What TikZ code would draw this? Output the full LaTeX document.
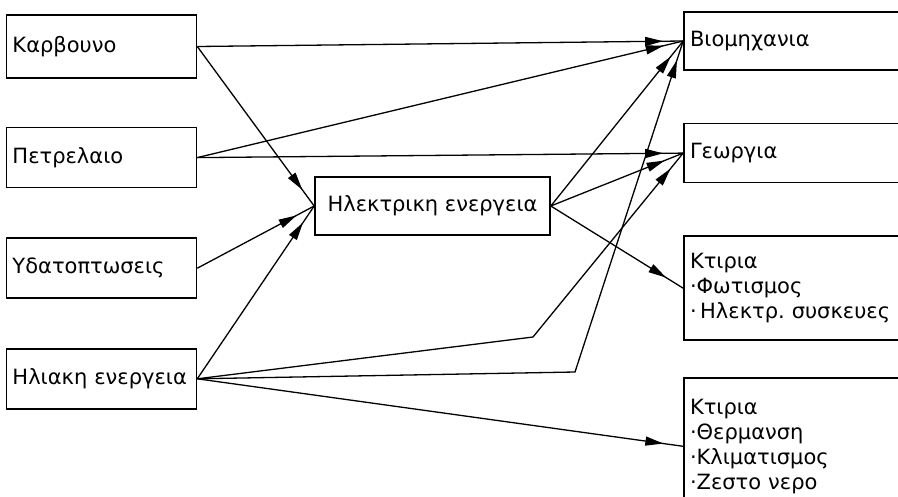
\documentclass[tikz,border=0pt]{standalone}
\usepackage{fontspec}
\setmainfont{DejaVu Sans}
\usetikzlibrary{arrows.meta, positioning, decorations.markings}

\begin{document}
\begin{tikzpicture}[x=1pt, y=-1pt,
    box/.style={draw, line width=1.6pt, inner xsep=6pt, align=left, font=\fontsize{21}{25}\selectfont},
    src/.style={box, minimum width=190pt, text width=178pt, minimum height=60pt},
    sink/.style={box, minimum width=240pt, text width=228pt},
    flow/.style={line width=1.3pt, postaction={decorate},
      decoration={markings, mark=at position -20pt with {\arrow{Triangle[length=18pt, width=9pt]}}}}]
      \useasboundingbox (0,0) rectangle (898,496);
      \clip (0,0) rectangle (898,496);

      % Nodes
      \node[src, minimum height=63pt] (carb) at (101.5,46.5) {Καρβουνο};
      \node[src, below=48pt of carb] (petr) {Πετρελαιο};
      \node[src, below=49pt of petr] (ydat) {Υδατοπτωσεις};
      \node[src, below=49pt of ydat] (ilia) {Ηλιακη~ενεργεια};

      \node[box, minimum width=235pt, minimum height=58pt] (elek) at (432.5,206) {Ηλεκτρικη ενεργεια};

      \node[sink, minimum height=58pt] (viom) at (804,41) {Βιομηχανια};
      \node[sink, minimum height=59pt, below=52pt of viom] (geor) {Γεωργια};
      \node[sink, minimum height=104pt, below=52pt of geor] (ktir) {Κτιρια\\·Φωτισμος\\·\,Ηλεκτρ.~συσκευες};
      \node[sink, minimum height=137pt, below=36pt of ktir] (ktirb) {Κτιρια\\·Θερμανση\\·Κλιματισμος\\·Ζεστο νερο};

      \coordinate (bendA) at (533,337);
      \coordinate (bendB) at (575,372);

      % Arrows
      \draw[flow] (carb.east) -- (viom.west);
      \draw[flow] (carb.east) -- (elek.west);
      \draw[flow] (petr.east) -- (viom.west);
      \draw[flow] (petr.east) -- (geor.west);
      \draw[flow] (ydat.east) -- (elek.west);
      \draw[flow] (ilia.east) -- (elek.west);
      \draw[flow] (elek.east) -- (viom.west);
      \draw[flow] (elek.east) -- (geor.west);
      \draw[flow] (elek.east) -- (ktir.west);
      \draw[flow] (ilia.east) -- (bendA) -- (geor.west);
      \draw[flow] (ilia.east) -- (bendB) -- (viom.west);
      \draw[flow] (ilia.east) -- (ktirb.west);
    \end{tikzpicture}
\end{document}
